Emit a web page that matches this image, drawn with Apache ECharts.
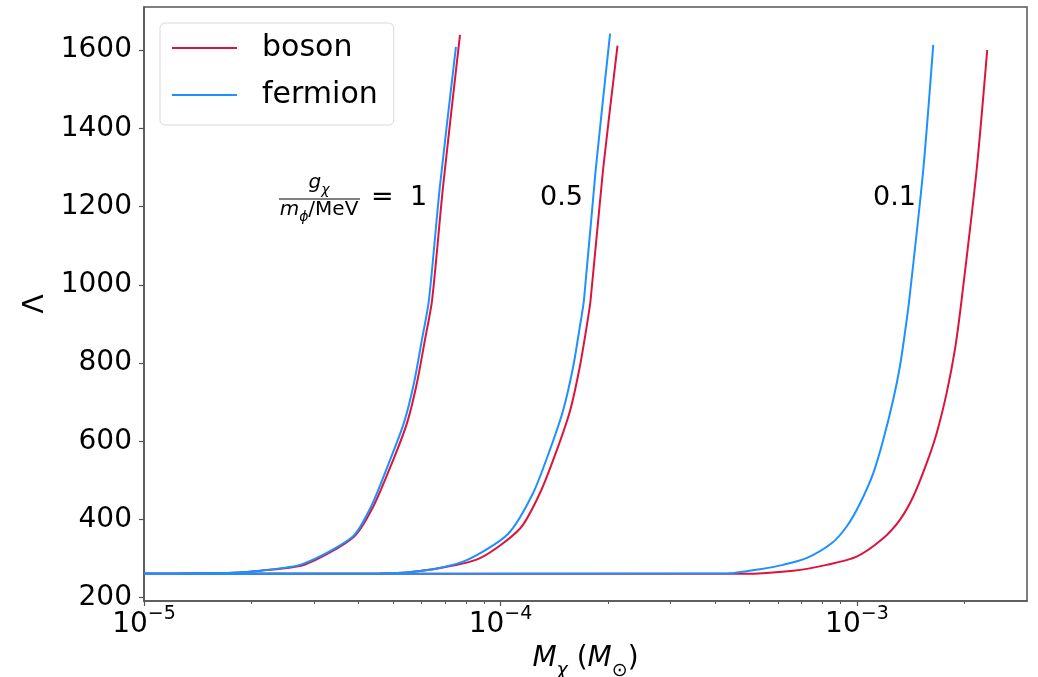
<!DOCTYPE html>
<html>
<head>
<meta charset="utf-8">
<script src="https://cdn.jsdelivr.net/npm/echarts@6/dist/echarts.min.js"></script>
<style>
  html, body { margin: 0; padding: 0; background: #fff; }
  #chart { width: 1038px; height: 677px; }
</style>
</head>
<body>
<div id="chart"></div>
<script>
// axis ticks
var xTicks = [1e-5, 1e-4, 1e-3];
var xMinorTicks = [2e-5, 3e-5, 4e-5, 5e-5, 6e-5, 7e-5, 8e-5, 9e-5,
  2e-4, 3e-4, 4e-4, 5e-4, 6e-4, 7e-4, 8e-4, 9e-4, 2e-3];
var yTicks = [200, 400, 600, 800, 1000, 1200, 1400, 1600];

// [M_chi, Lambda]
var bosonG1 = [[1e-5, 261], [1.78e-5, 264], [2.12e-5, 269], [2.83e-5, 285], [3.86e-5, 354],
  [4.39e-5, 432], [5.0e-5, 552], [5.47e-5, 647], [5.83e-5, 749], [6.14e-5, 859],
  [6.43e-5, 961], [6.9e-5, 1250], [7.7e-5, 1639]];
var fermionG1 = [[1e-5, 261], [1.78e-5, 264], [2.12e-5, 269], [2.78e-5, 286], [3.84e-5, 355],
  [4.33e-5, 432], [4.9e-5, 552], [5.36e-5, 647], [5.72e-5, 749], [6.02e-5, 859],
  [6.3e-5, 961], [6.76e-5, 1250], [7.5e-5, 1608]];
var bosonG05 = [[1e-5, 261], [4.6e-5, 262], [6.47e-5, 273], [8.76e-5, 301], [1.135e-4, 377],
  [1.29e-4, 467], [1.44e-4, 578], [1.57e-4, 680], [1.67e-4, 791], [1.745e-4, 893],
  [1.79e-4, 961], [1.94e-4, 1294], [2.13e-4, 1611]];
var fermionG05 = [[1e-5, 261], [4.6e-5, 262], [6.47e-5, 273], [8.04e-5, 296], [1.05e-4, 363],
  [1.234e-4, 467], [1.376e-4, 578], [1.5e-4, 680], [1.6e-4, 791], [1.67e-4, 893],
  [1.715e-4, 961], [1.85e-4, 1294], [2.03e-4, 1642]];
var bosonG01 = [[1e-5, 261], [4.8e-4, 261], [6.63e-4, 269], [8.22e-4, 284], [9.98e-4, 305],
  [1.185e-3, 352], [1.32e-3, 399], [1.438e-3, 458], [1.569e-3, 544], [1.673e-3, 620],
  [1.785e-3, 723], [1.883e-3, 834], [1.966e-3, 961], [2.167e-3, 1294], [2.32e-3, 1600]];
var fermionG01 = [[1e-5, 261], [4.31e-4, 262], [5.35e-4, 273], [6.21e-4, 284], [7.22e-4, 301],
  [8.49e-4, 339], [9.36e-4, 382], [1.02e-3, 441], [1.111e-3, 518], [1.185e-3, 603],
  [1.264e-3, 706], [1.32e-3, 791], [1.363e-3, 876], [1.402e-3, 961], [1.535e-3, 1294],
  [1.637e-3, 1613]];

var RED = '#DC143C';
var BLUE = '#1E90FF';
var FONT = 'DejaVu Sans';

var myChart = echarts.init(document.getElementById('chart'));

function curve(name, color, data) {
  return {
    name: name,
    type: 'line',
    data: data,
    showSymbol: false,
    symbol: 'none',
    smooth: 0.25,
    color: color,
    lineStyle: { color: color, width: 2 },
    animation: false
  };
}

var option = {
  backgroundColor: '#fff',
  grid: {
    left: 144, right: 11, top: 7, bottom: 76,
    outerBoundsMode: 'none',
    containLabel: false,
    show: true, borderColor: '#555', borderWidth: 1.5
  },
  legend: {
    data: ['boson', 'fermion'],
    orient: 'vertical',
    left: 160, top: 23,
    icon: 'rect',
    itemWidth: 65, itemHeight: 2,
    itemGap: 17,
    selectedMode: false,
    padding: [10, 16, 15, 12],
    borderColor: '#d9d9d9', borderWidth: 1, borderRadius: 5,
    backgroundColor: '#fff',
    textStyle: { fontFamily: FONT, fontSize: 30, color: '#000', lineHeight: 30, padding: [0, 0, 0, 20] }
  },
  xAxis: [{
    type: 'log',
    logBase: 10,
    min: 1e-5, max: 3e-3,
    name: '{i|M}{sub|χ}{n| (}{i|M}{sub|⊙}{n|)}',
    nameLocation: 'middle',
    nameGap: 44,
    nameTextStyle: {
      rich: {
        i: { fontFamily: FONT, fontStyle: 'italic', fontSize: 28, color: '#000', lineHeight: 36, verticalAlign: 'top' },
        n: { fontFamily: FONT, fontSize: 28, color: '#000', lineHeight: 36, verticalAlign: 'top' },
        sub: { fontFamily: FONT, fontStyle: 'italic', fontSize: 19, color: '#000', lineHeight: 20, verticalAlign: 'bottom' }
      }
    },
    splitLine: { show: false },
    axisLine: { show: true, lineStyle: { color: '#555', width: 1.5 } },
    axisTick: { show: true, customValues: xTicks, length: 5, lineStyle: { color: '#555', width: 1.2 } },
    axisLabel: {
      customValues: xTicks,
      margin: 4,
      formatter: function (v) {
        var e = Math.round(Math.log10(v));
        return '{b|10}{s|' + (e < 0 ? '\u2212' : '') + Math.abs(e) + '}';
      },
      rich: {
        b: { fontFamily: FONT, fontSize: 28, color: '#000', lineHeight: 34, verticalAlign: 'bottom' },
        s: { fontFamily: FONT, fontSize: 19, color: '#000', lineHeight: 20, verticalAlign: 'top' }
      }
    }
  }, {
    // minor ticks
    type: 'log',
    logBase: 10,
    min: 1e-5, max: 3e-3,
    position: 'bottom',
    axisLine: { show: false },
    splitLine: { show: false },
    axisLabel: { show: false },
    axisTick: { show: true, customValues: xMinorTicks, length: 3, lineStyle: { color: '#555', width: 1 } }
  }],
  yAxis: {
    type: 'value',
    min: 191.6, max: 1710,
    name: 'Λ',
    nameLocation: 'middle',
    nameGap: 91,
    nameTextStyle: { fontFamily: FONT, fontSize: 28, color: '#000' },
    splitLine: { show: false },
    axisLine: { show: true, lineStyle: { color: '#555', width: 1.5 } },
    axisTick: { show: true, customValues: yTicks, length: 5, lineStyle: { color: '#555', width: 1.2 } },
    axisLabel: {
      customValues: yTicks,
      margin: 12,
      formatter: function (v) { return String(v); },
      fontFamily: FONT, fontSize: 28, color: '#000'
    }
  },
  graphic: [
    {
      type: 'text', x: 319, y: 185,
      style: {
        text: '{i|g}{s|χ}', align: 'center', verticalAlign: 'middle',
        rich: {
          i: { fontFamily: FONT, fontStyle: 'italic', fontSize: 20, fill: '#000', lineHeight: 24, verticalAlign: 'top' },
          s: { fontFamily: FONT, fontStyle: 'italic', fontSize: 14, fill: '#000', lineHeight: 14, verticalAlign: 'bottom' }
        }
      }
    },
    {
      type: 'line', shape: { x1: 279, y1: 199, x2: 360, y2: 199 },
      style: { stroke: '#000', lineWidth: 1 }
    },
    {
      type: 'text', x: 319, y: 212,
      style: {
        text: '{i|m}{s|ϕ}{n|/MeV}', align: 'center', verticalAlign: 'middle',
        rich: {
          i: { fontFamily: FONT, fontStyle: 'italic', fontSize: 20, fill: '#000', lineHeight: 24, verticalAlign: 'top' },
          n: { fontFamily: FONT, fontSize: 20, fill: '#000', lineHeight: 24, verticalAlign: 'top' },
          s: { fontFamily: FONT, fontStyle: 'italic', fontSize: 14, fill: '#000', lineHeight: 14, verticalAlign: 'bottom' }
        }
      }
    },
    {
      type: 'text', x: 371, y: 198,
      style: { text: '=', fontFamily: FONT, fontSize: 27, fill: '#000', align: 'left', verticalAlign: 'middle' }
    },
    {
      type: 'text', x: 410, y: 198,
      style: { text: '1', fontFamily: FONT, fontSize: 27, fill: '#000', align: 'left', verticalAlign: 'middle' }
    },
    {
      type: 'text', x: 540, y: 198,
      style: { text: '0.5', fontFamily: FONT, fontSize: 27, fill: '#000', align: 'left', verticalAlign: 'middle' }
    },
    {
      type: 'text', x: 873, y: 198,
      style: { text: '0.1', fontFamily: FONT, fontSize: 27, fill: '#000', align: 'left', verticalAlign: 'middle' }
    }
  ],
  series: [
    curve('boson', RED, bosonG1),
    curve('boson', RED, bosonG05),
    curve('boson', RED, bosonG01),
    curve('fermion', BLUE, fermionG1),
    curve('fermion', BLUE, fermionG05),
    curve('fermion', BLUE, fermionG01)
  ]
};

myChart.setOption(option);
</script>
</body>
</html>
